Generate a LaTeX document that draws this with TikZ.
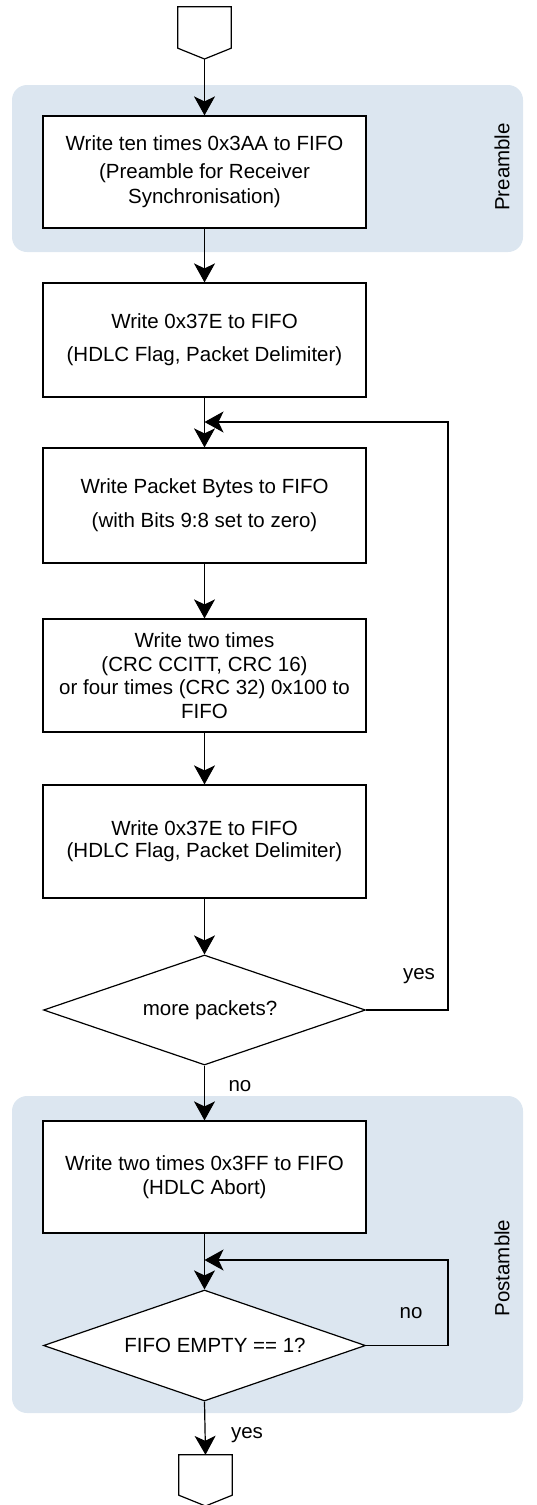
\documentclass[tikz,border=0pt]{standalone}
\usepackage{fontspec}
\setmainfont{Liberation Sans}
\usetikzlibrary{arrows.meta,shapes.geometric,calc}
\definecolor{regionfill}{HTML}{DCE6F0}
\begin{document}
\begin{tikzpicture}[x=1pt,y=-1pt,
  every node/.style={font=\fontsize{20.5}{23.5}\selectfont},
  procbox/.style={draw, line width=1.2pt, fill=white, minimum width=323pt, align=center, inner sep=0pt},
  decision/.style={draw, line width=1.2pt, fill=white, diamond, aspect=2.93, minimum width=322pt, inner sep=0pt, align=center},
  region/.style={fill=regionfill, rounded corners=15pt},
  termbox/.style={minimum width=53pt, inner sep=0pt},
  termline/.style={draw, line width=1.2pt, fill=white, line join=miter},
  arr/.style={draw, line width=1.2pt, -{Stealth[length=19pt,width=21pt,inset=5pt]}},
  plain/.style={draw, line width=1.2pt},
  lbl/.style={inner sep=0pt}
]
\useasboundingbox (0,0) rectangle (537,1505);

% background regions
\fill[region] (12,85) rectangle (523,252);
\fill[region] (12,1096) rectangle (523,1413);
\node[lbl, rotate=90] (prelbl) at (502,167) {Preamble};
\node[lbl, rotate=90] (postlbl) at (502,1268) {Postamble};

% start connector
\node[termbox, minimum height=41pt] (start) at (204.5,27.5) {};
\coordinate (starttip) at (204.5,59);
\draw[termline] (start.north west) -- (start.north east) -- (start.south east) -- (starttip) -- (start.south west) -- cycle;

% process boxes
\node[procbox, minimum height=112pt] (b1) at (204.5,172)
  {Write ten times 0x3AA to FIFO\\[4pt](Preamble for Receiver\\[2pt]Synchronisation)};
\node[procbox, minimum height=114pt] (b2) at (204.5,340)
  {Write 0x37E to FIFO\\[9.5pt](HDLC Flag, Packet Delimiter)};
\node[procbox, minimum height=115pt] (b3) at (204.5,505.5)
  {Write Packet Bytes to FIFO\\[10.5pt](with Bits 9:8 set to zero)};
\node[procbox, minimum height=113pt] (b4) at (204.5,675.5)
  {Write two times\\(CRC CCITT, CRC 16)\\or four times (CRC 32) 0x100 to\\FIFO};
\node[procbox, minimum height=113pt] (b5) at (204.5,841.5)
  {Write 0x37E to FIFO\\[-1.5pt](HDLC Flag, Packet Delimiter)};
\node[decision, minimum height=110pt] (d1) at (204.5,1010)
  {\hspace*{11pt}more packets?};
\node[procbox, minimum height=112pt] (b6) at (204.5,1177)
  {Write two times 0x3FF to FIFO\\[0.5pt](HDLC Abort)};
\node[decision, minimum height=111pt] (d2) at (204.5,1345.5)
  {\hspace*{21pt}FIFO EMPTY == 1?};

% end connector
\node[termbox, minimum height=40pt] (stop) at (205.5,1475) {};
\coordinate (stoptip) at (205.5,1506);
\draw[termline] (stop.north west) -- (stop.north east) -- (stop.south east) -- (stoptip) -- (stop.south west) -- cycle;

% loop coordinates
\coordinate (m1) at (204.5,422);
\coordinate (r1) at (448,422);
\coordinate (m2) at (204.5,1260);
\coordinate (r2) at (448,1260);

% connectors
\draw[arr] (starttip) -- (b1.north);
\draw[arr] (b1.south) -- (b2.north);
\draw[arr] (b2.south) -- (b3.north);
\draw[arr] (d1.east) -| (r1) -- (m1);
\draw[arr] (b3.south) -- (b4.north);
\draw[arr] (b4.south) -- (b5.north);
\draw[arr] (b5.south) -- (d1.north);
\draw[arr] (d1.south) -- (b6.north);
\draw[arr] (b6.south) -- (d2.north);
\draw[arr] (d2.east) -| (r2) -- (m2);
\draw[arr] (d2.south) -- (stop.north);

% labels
\node[lbl] (yes1) at (419,976) {yes};
\node[lbl] (no1) at (240,1086) {no};
\node[lbl] (no2) at (411,1313) {no};
\node[lbl] (yes2) at (247,1435) {yes};
\end{tikzpicture}
\end{document}
